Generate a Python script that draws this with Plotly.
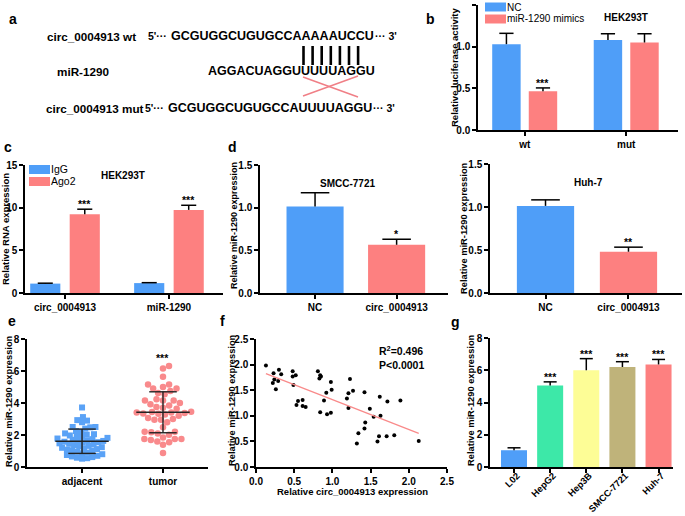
import numpy as np
import plotly.graph_objects as go

W, H = 685, 516
FONT = "Liberation Sans, Arial, sans-serif"
BLUE = "#4f9ef8"
RED = "#fd8080"

# ---------------- data ----------------
# panel b
b_groups = ["wt", "mut"]
b_nc = [1.03, 1.08]
b_nc_sd = [0.13, 0.075]
b_mim = [0.465, 1.05]
b_mim_sd = [0.04, 0.105]
b_mim_sig = ["***", ""]

# panel c
c_groups = ["circ_0004913", "miR-1290"]
c_igg = [1.1, 1.16]
c_igg_sd = [0.05, 0.05]
c_ago = [9.23, 9.74]
c_ago_sd = [0.59, 0.54]
c_ago_sig = ["***", "***"]

# panel d
d_groups = ["NC", "circ_0004913"]
d1_vals = [1.015, 0.565]
d1_sd = [0.16, 0.065]
d1_sig = ["", "*"]
d2_vals = [1.013, 0.48]
d2_sd = [0.07, 0.053]
d2_sig = ["", "**"]

# panel e
e_groups = ["adjacent", "tumor"]
e_adjacent = [0.52, 0.55, 0.58, 0.62, 0.66, 0.70, 0.75, 0.80, 0.86, 0.90, 0.95, 1.00,
              1.05, 1.08, 1.12, 1.16, 1.20, 1.24, 1.28, 1.32, 1.36, 1.40, 1.45, 1.48,
              1.52, 1.55, 1.58, 1.60, 1.63, 1.66, 1.70, 1.74, 1.78, 1.82, 1.88,
              1.92, 1.97, 2.02, 2.05, 2.10, 2.20, 2.25, 2.40, 2.48, 2.50, 2.50,
              2.80, 2.90, 2.93, 3.12, 3.72]
e_tumor = [6.32, 6.15, 5.64, 5.16, 5.16, 5.00, 4.90, 4.90, 4.75, 4.63, 4.55,
           4.23, 4.15, 4.15, 4.15, 4.00, 3.92, 3.85, 3.75, 3.70, 3.64,
           3.45, 3.43, 3.40, 3.40, 3.38, 3.35, 3.33, 3.28, 3.20,
           3.07, 3.00, 2.95, 2.95, 2.80, 2.48, 2.20, 2.20, 2.17, 2.10, 2.02,
           1.85, 1.75, 1.75, 1.75, 1.68, 1.60, 1.54, 1.39, 0.88]
e_mean = [1.61, 3.42]
e_sd = [0.76, 1.28]
e_sig = ["", "***"]

# panel f
f_x = [0.13, 0.23, 0.30, 0.33, 0.24, 0.22, 0.29, 0.26, 0.48, 0.48, 0.52, 0.49,
       0.55, 0.53, 0.61, 0.61, 0.65, 0.81, 0.84, 0.83, 0.85, 0.84, 0.92, 0.89,
       0.93, 0.98, 0.99, 0.98, 1.23, 1.21, 1.27, 1.19, 1.21, 1.42, 1.49, 1.43,
       1.42, 1.34, 1.32, 1.54, 1.62, 1.63, 1.61, 1.59, 1.71, 1.72, 1.81, 1.89, 2.13]
f_y = [1.98, 1.83, 1.90, 1.81, 1.71, 1.64, 1.68, 1.52, 1.87, 1.77, 1.79, 1.60,
       1.29, 1.21, 1.31, 1.19, 1.17, 1.87, 1.79, 1.73, 1.77, 1.07, 1.45, 1.30,
       1.03, 1.66, 1.51, 1.06, 1.72, 1.44, 1.49, 1.34, 1.15, 1.46, 1.14, 0.87,
       0.75, 0.66, 0.46, 0.98, 1.37, 1.00, 0.60, 0.50, 0.60, 1.28, 0.62, 1.30, 0.51]
f_stats = ["R<sup>2</sup>=0.496", "P&lt;0.0001"]

# panel g
g_cells = ["L02", "HepG2", "Hep3B", "SMCC-7721", "Huh-7"]
g_vals = [1.04, 5.05, 6.0, 6.2, 6.36]
g_sd = [0.15, 0.23, 0.72, 0.33, 0.31]
g_sig = ["", "***", "***", "***", "***"]
g_colors = ["#4f9ef8", "#3de8a8", "#fdfd96", "#bfb37a", "#fd8080"]

# ---------------- helpers ----------------
def px(xp):
    return xp / W


def py(yp):
    return 1 - yp / H


fig = go.Figure()
annotations = []
shapes = []
PADFIX = 3  # annotation inner padding compensation for left-anchored texts


def text(xp, yp, s, size=10, bold=True, xanchor="center", yanchor="middle", angle=0, color="black"):
    if xanchor == "left":
        xp = xp - PADFIX
    annotations.append(dict(x=px(xp), y=py(yp), xref="paper", yref="paper", text=s,
                            showarrow=False, xanchor=xanchor, yanchor=yanchor, textangle=angle,
                            align="left" if xanchor == "left" else "center",
                            font=dict(family=FONT, size=size, color=color,
                                      weight="bold" if bold else "normal")))


AX = dict(showline=True, linecolor="black", linewidth=1.5, ticks="outside", ticklen=4,
          tickwidth=1.5, tickcolor="black", showgrid=False, zeroline=False, automargin=False,
          tickfont=dict(family=FONT, size=10, color="black", weight="bold"), fixedrange=True)


def set_axes(n, xdom, ydom, xrange, yrange, xtickvals, xticktext, ytickvals, yfmt=None,
             xangle=0, xextra=None):
    xs = "xaxis" if n == 1 else f"xaxis{n}"
    ys = "yaxis" if n == 1 else f"yaxis{n}"
    anc = "" if n == 1 else str(n)
    xd = dict(AX, domain=[px(xdom[0]), px(xdom[1])], range=xrange,
              anchor="y" + anc, tickmode="array", tickvals=xtickvals,
              ticktext=xticktext, tickangle=xangle)
    if xextra:
        xd.update(xextra)
    fig.layout[xs] = xd
    yd = dict(AX, domain=[py(ydom[1]), py(ydom[0])], range=yrange, anchor="x" + anc,
              tickmode="array", tickvals=ytickvals)
    if yfmt:
        yd["tickformat"] = yfmt
    fig.layout[ys] = yd


def refs(n):
    return ("x", "y") if n == 1 else (f"x{n}", f"y{n}")


def bars(n, xs, vals, sds, colors, width, sig=None):
    xr, yr = refs(n)
    fig.add_bar(x=xs, y=vals, width=width, marker=dict(color=colors, line=dict(width=0)),
                xaxis=xr, yaxis=yr, showlegend=False)
    ex, ey = [], []
    cap = width / 4
    for x, v, s in zip(xs, vals, sds):
        ex += [x, x, None, x - cap, x + cap, None]
        ey += [v, v + s, None, v + s, v + s, None]
    fig.add_scatter(x=ex, y=ey, mode="lines", line=dict(color="black", width=1.5),
                    xaxis=xr, yaxis=yr, showlegend=False, hoverinfo="skip")
    if sig:
        for x, v, s, t in zip(xs, vals, sds, sig):
            if t:
                annotations.append(dict(x=x, y=v + s, xref=xr, yref=yr, text=t, showarrow=False,
                                        yanchor="bottom", yshift=-3,
                                        font=dict(family=FONT, size=10.5, color="black", weight="bold")))


def beeswarm(values, ppu, diam):
    v = np.asarray(values, float)
    ys = v * ppu
    order = np.argsort(v, kind="stable")
    xs = np.zeros(len(v))
    placed = []
    for i in order:
        y = ys[i]
        cands = [0.0]
        for j in placed:
            dy = y - ys[j]
            if abs(dy) < diam:
                dx = np.sqrt(diam ** 2 - dy ** 2)
                cands += [xs[j] + dx, xs[j] - dx]
        cands.sort(key=abs)
        for c in cands:
            if all((c - xs[j]) ** 2 + (y - ys[j]) ** 2 >= diam ** 2 - 1e-6 for j in placed):
                xs[i] = c
                break
        placed.append(i)
    return xs


# ---------------- panel a ----------------
text(13, 19, "a", size=14)
text(48, 36, "circ_0004913 wt", size=11.7, xanchor="left")
text(149, 36, "5'···", size=10.5, xanchor="left")
text(172, 36, "GCGUGGCUGUGCCAAAAAUCCU", size=12.5, xanchor="left")
text(376, 36, "··· 3'", size=10.5, xanchor="left")
text(58, 71, "miR-1290", size=11.7, xanchor="left")
text(209, 71, "AGGACUAGGUUUUUAGGU", size=12.5, xanchor="left")
text(47, 108, "circ_0004913 mut", size=11.7, xanchor="left")
text(146, 108, "5'···", size=10.5, xanchor="left")
text(169, 108, "GCGUGGCUGUGCCAUUUUAGGU", size=12.5, xanchor="left")
text(374, 108, "··· 3'", size=10.5, xanchor="left")
for k in range(7):
    xb = 303.5 + k * 9.1
    shapes.append(dict(type="line", xref="paper", yref="paper", x0=px(xb), x1=px(xb),
                       y0=py(46), y1=py(65), line=dict(color="black", width=2.6)))
shapes.append(dict(type="line", xref="paper", yref="paper", x0=px(303), y0=py(77),
                   x1=px(358), y1=py(97), line=dict(color="#f07f86", width=1.6)))
shapes.append(dict(type="line", xref="paper", yref="paper", x0=px(358), y0=py(76),
                   x1=px(303), y1=py(96), line=dict(color="#f07f86", width=1.6)))

# ---------------- panel b ----------------
text(430, 19, "b", size=14)
set_axes(1, (478, 678), (5, 130), [-0.46, 1.51], [0, 1.5], [0, 1], b_groups,
         [0, 0.5, 1.0, 1.5], ".1f")
bw = 0.28
bars(1, [i - 0.18 for i in range(2)], b_nc, b_nc_sd, BLUE, bw)
bars(1, [i + 0.18 for i in range(2)], b_mim, b_mim_sd, RED, bw, b_mim_sig)
text(454, 67, "Relative luciferase activity", size=9.5, angle=-90)
shapes.append(dict(type="rect", xref="paper", yref="paper", x0=px(485), x1=px(506),
                   y0=py(11.5), y1=py(2.5), fillcolor=BLUE, line=dict(width=0)))
shapes.append(dict(type="rect", xref="paper", yref="paper", x0=px(485), x1=px(506),
                   y0=py(23.5), y1=py(14.5), fillcolor=RED, line=dict(width=0)))
text(508, 7, "NC", size=10, bold=False, xanchor="left")
text(508, 19, "miR-1290 mimics", size=10, bold=False, xanchor="left")
text(626, 17, "HEK293T", size=10)

# ---------------- panel c ----------------
text(8, 147, "c", size=14)
set_axes(2, (25, 223), (165, 293), [-0.385, 1.52], [0, 15], [0, 1], c_groups,
         [0, 5, 10, 15])
cw = 0.29
bars(2, [i - 0.19 for i in range(2)], c_igg, c_igg_sd, BLUE, cw)
bars(2, [i + 0.19 for i in range(2)], c_ago, c_ago_sd, RED, cw, c_ago_sig)
text(5, 229, "Relative RNA expression", size=9.5, angle=-90)
shapes.append(dict(type="rect", xref="paper", yref="paper", x0=px(29), x1=px(50),
                   y0=py(174), y1=py(165), fillcolor=BLUE, line=dict(width=0)))
shapes.append(dict(type="rect", xref="paper", yref="paper", x0=px(29), x1=px(50),
                   y0=py(186), y1=py(177), fillcolor=RED, line=dict(width=0)))
text(52, 169.5, "IgG", size=10.5, bold=False, xanchor="left")
text(52, 181.5, "Ago2", size=10.5, bold=False, xanchor="left")
text(123, 176, "HEK293T", size=10)

# ---------------- panel d ----------------
text(232, 147, "d", size=14)
set_axes(3, (260, 448), (165, 293), [-0.675, 1.63], [0, 1.5], [0, 1], d_groups,
         [0, 0.5, 1.0, 1.5], ".1f")
bars(3, [0, 1], d1_vals, d1_sd, [BLUE, RED], 0.7, d1_sig)
text(234, 226, "Relative miR-1290 expression", size=9, angle=-90)
text(348, 184, "SMCC-7721", size=10)

set_axes(4, (490, 682), (164, 293), [-0.669, 1.645], [0, 1.5], [0, 1], d_groups,
         [0, 0.5, 1.0, 1.5], ".1f")
bars(4, [0, 1], d2_vals, d2_sd, [BLUE, RED], 0.69, d2_sig)
text(464, 228, "Relative miR-1290 expression", size=9.3, angle=-90)
text(588, 183, "Huh-7", size=10)

# ---------------- panel e ----------------
text(12, 321, "e", size=14)
set_axes(5, (27, 208), (339, 467), [-0.68, 1.556], [0, 8], [0, 1], e_groups,
         [0, 2, 4, 6, 8])
ppu_y, ppu_x = 16.0, 81.0
off_a = beeswarm(e_adjacent, ppu_y, 5.2) / ppu_x
off_t = beeswarm(e_tumor, ppu_y, 6.6) / ppu_x
fig.add_scatter(x=0 + off_a, y=e_adjacent, mode="markers", xaxis="x5", yaxis="y5",
                marker=dict(symbol="square", size=6, color="#5aa2f6"), showlegend=False)
fig.add_scatter(x=1 + off_t, y=e_tumor, mode="markers", xaxis="x5", yaxis="y5",
                marker=dict(symbol="circle", size=6.5, color="#f98a8c"), showlegend=False)
lx, ly = [], []
for g, (m, s) in enumerate(zip(e_mean, e_sd)):
    lx += [g - 0.33, g + 0.33, None, g, g, None, g - 0.17, g + 0.17, None, g - 0.17, g + 0.17, None]
    ly += [m, m, None, m - s, m + s, None, m - s, m - s, None, m + s, m + s, None]
fig.add_scatter(x=lx, y=ly, mode="lines", line=dict(color="#222222", width=1.4),
                xaxis="x5", yaxis="y5", showlegend=False, hoverinfo="skip")
for g, t in enumerate(e_sig):
    if t:
        vals = e_tumor if g == 1 else e_adjacent
        annotations.append(dict(x=g, y=max(vals), xref="x5", yref="y5", text=t, showarrow=False,
                                yanchor="bottom", yshift=0,
                                font=dict(family=FONT, size=10.5, color="black", weight="bold")))
text(9, 401, "Relative miR-1290 expression", size=9.3, angle=-90)

# ---------------- panel f ----------------
text(222, 321, "f", size=14)
set_axes(6, (256, 447), (339, 467), [0, 2.5], [0, 2.5], [0, 0.5, 1.0, 1.5, 2.0, 2.5],
         ["0.0", "0.5", "1.0", "1.5", "2.0", "2.5"], [0, 0.5, 1.0, 1.5, 2.0, 2.5], ".1f")
fig.add_scatter(x=f_x, y=f_y, mode="markers", marker=dict(color="black", size=4),
                xaxis="x6", yaxis="y6", showlegend=False)
slope, icpt = np.polyfit(f_x, f_y, 1)
xl = np.array([min(f_x), max(f_x)])
fig.add_scatter(x=xl, y=slope * xl + icpt, mode="lines", line=dict(color="#f98a8a", width=1.3),
                xaxis="x6", yaxis="y6", showlegend=False)
text(380, 357.5, "<br>".join(f_stats), size=10.5, xanchor="left")
text(352, 491, "Relative circ_0004913 expression", size=9.5)
text(232, 400, "Relative miR-1290 expression", size=9.3, angle=-90)

# ---------------- panel g ----------------
text(455, 322, "g", size=14)
set_axes(7, (490, 673), (338, 467), [-0.665, 4.40], [0, 8], list(range(5)), g_cells,
         [0, 2, 4, 6, 8], xangle=-45,
         xextra=dict(ticklabelstandoff=-6, ticklabelshift=3,
                     tickfont=dict(family=FONT, size=9.3, color="black", weight="bold")))
bars(7, list(range(5)), g_vals, g_sd, g_colors, 0.72, g_sig)
text(471, 400, "Relative miR-1290 expression", size=9.3, angle=-90)

fig.update_layout(template="none", width=W, height=H, margin=dict(l=0, r=0, t=0, b=0, pad=0),
                  autosize=False, plot_bgcolor="white", paper_bgcolor="white", barmode="overlay",
                  showlegend=False, annotations=annotations, shapes=shapes,
                  font=dict(family=FONT, color="black"))

fig.write_html("out.html", config={"displayModeBar": False},
               post_script="document.body.style.margin='0';document.body.style.padding='0';")
